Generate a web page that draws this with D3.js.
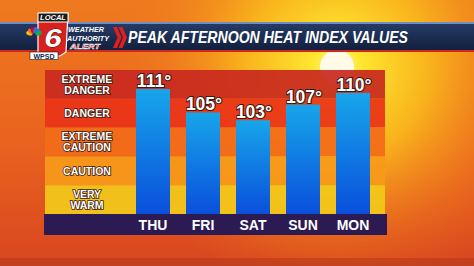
<!DOCTYPE html>
<html>
<head>
<meta charset="utf-8">
<script src="https://cdn.jsdelivr.net/npm/d3@7"></script>
<style>
  body { margin: 0; padding: 0; overflow: hidden; }
  svg { display: block; font-family: "Liberation Sans", Arial, sans-serif; }
</style>
</head>
<body>
<div id="chart"></div>
<script>
// chart data
const days = ["THU", "FRI", "SAT", "SUN", "MON"];
const heatIndex = [111, 105, 103, 107, 110];
const bandNames = ["EXTREME DANGER", "DANGER", "EXTREME CAUTION", "CAUTION", "VERY WARM"];
const bandColors = ["#c92a1f", "#ea3418", "#f26c19", "#f69a19", "#f3c81a"];
const titleText = "PEAK AFTERNOON HEAT INDEX VALUES";

const W = 474, H = 266;

const svg = d3.select("#chart").append("svg")
    .attr("width", W)
    .attr("height", H);

const defs = svg.append("defs");

// background gradients
const bgLin = defs.append("linearGradient").attr("id", "bgLin")
    .attr("x1", 0).attr("y1", 0).attr("x2", 0).attr("y2", 1);
bgLin.append("stop").attr("offset", "0%").attr("stop-color", "#ee7a1e");
bgLin.append("stop").attr("offset", "55%").attr("stop-color", "#e9621f");
bgLin.append("stop").attr("offset", "100%").attr("stop-color", "#d8461f");

const sunGlow = defs.append("radialGradient").attr("id", "sunGlow")
    .attr("cx", 337).attr("cy", 67).attr("r", 230)
    .attr("gradientUnits", "userSpaceOnUse");
sunGlow.append("stop").attr("offset", "0%").attr("stop-color", "#fff8c0").attr("stop-opacity", 1);
sunGlow.append("stop").attr("offset", "10%").attr("stop-color", "#ffe830").attr("stop-opacity", 1);
sunGlow.append("stop").attr("offset", "40%").attr("stop-color", "#fbc01c").attr("stop-opacity", 0.85);
sunGlow.append("stop").attr("offset", "75%").attr("stop-color", "#f48a1c").attr("stop-opacity", 0.35);
sunGlow.append("stop").attr("offset", "100%").attr("stop-color", "#f07020").attr("stop-opacity", 0);

const barGrad = defs.append("linearGradient").attr("id", "barGrad")
    .attr("x1", 0).attr("y1", 0).attr("x2", 0).attr("y2", 1);
barGrad.append("stop").attr("offset", "0%").attr("stop-color", "#17a6ea");
barGrad.append("stop").attr("offset", "100%").attr("stop-color", "#0a4fdc");

const titleGrad = defs.append("linearGradient").attr("id", "titleGrad")
    .attr("x1", 0).attr("y1", 0).attr("x2", 0).attr("y2", 1);
titleGrad.append("stop").attr("offset", "0%").attr("stop-color", "#243a66");
titleGrad.append("stop").attr("offset", "100%").attr("stop-color", "#13203e");

svg.append("rect").attr("width", W).attr("height", H).attr("fill", "url(#bgLin)");
svg.append("rect").attr("width", W).attr("height", H).attr("fill", "url(#sunGlow)");
// sun disc
svg.append("circle").attr("cx", 337).attr("cy", 67).attr("r", 17).attr("fill", "#fffbe8");
// darker strip at the bottom
svg.append("rect").attr("x", 0).attr("y", 258).attr("width", W).attr("height", 8)
    .attr("fill", "#b83a1c").attr("opacity", 0.6);

// scales
const panel = { left: 45, right: 385, top: 70, bottom: 214 };

const bandY = d3.scaleBand()
    .domain(bandNames)
    .range([panel.top, panel.bottom]);

const x = d3.scaleBand()
    .domain(days)
    .range([128, 378])
    .paddingInner(0.32)
    .paddingOuter(0.16);

const y = d3.scaleLinear()
    .domain([79, 111])
    .range([panel.bottom, 89]);

// danger bands
svg.append("g").selectAll("rect")
    .data(bandNames)
    .join("rect")
    .attr("x", panel.left)
    .attr("y", d => bandY(d))
    .attr("width", panel.right - panel.left)
    .attr("height", bandY.bandwidth())
    .attr("fill", (d, i) => bandColors[i])
    .attr("opacity", 0.93);

// band labels
const bandLabels = svg.append("g")
    .attr("font-size", 10.5)
    .attr("font-weight", "bold")
    .attr("fill", "#fff")
    .attr("stroke", "#3a1a10")
    .attr("stroke-width", 1.6)
    .attr("paint-order", "stroke")
    .attr("text-anchor", "middle");

bandNames.forEach(name => {
    const words = name.split(" ");
    const cy = bandY(name) + bandY.bandwidth() / 2;
    const t = bandLabels.append("text")
        .attr("x", 87);
    if (words.length === 1) {
        t.attr("y", cy + 3.8).text(name);
    } else {
        t.append("tspan").attr("x", 87).attr("y", cy - 1.7).text(words[0]);
        t.append("tspan").attr("x", 87).attr("y", cy + 9.3).text(words[1]);
    }
});

// day bar at the bottom
svg.append("rect")
    .attr("x", 44).attr("y", panel.bottom)
    .attr("width", 343).attr("height", 21)
    .attr("fill", "#2c1a52");

svg.append("g").selectAll("text")
    .data(days)
    .join("text")
    .attr("x", d => x(d) + x.bandwidth() / 2)
    .attr("y", 230)
    .attr("text-anchor", "middle")
    .attr("font-size", 14)
    .attr("font-weight", "bold")
    .attr("fill", "#fff")
    .text(d => d);

// bars
svg.append("g").selectAll("rect")
    .data(heatIndex)
    .join("rect")
    .attr("x", (d, i) => x(days[i]))
    .attr("y", d => y(d))
    .attr("width", x.bandwidth())
    .attr("height", d => y.range()[0] - y(d))
    .attr("fill", "url(#barGrad)");

// value labels
svg.append("g").selectAll("text")
    .data(heatIndex)
    .join("text")
    .attr("x", (d, i) => x(days[i]) + x.bandwidth() / 2 + 1)
    .attr("y", d => y(d) - 2)
    .attr("text-anchor", "middle")
    .attr("font-size", 17.5)
    .attr("font-weight", "bold")
    .attr("fill", "#fff")
    .attr("stroke", "#3a1a14")
    .attr("stroke-width", 2)
    .attr("paint-order", "stroke")
    .text(d => d + "°");

// title bar
svg.append("rect").attr("x", 0).attr("y", 22).attr("width", W).attr("height", 2).attr("fill", "#6f8fc0");
svg.append("rect").attr("x", 0).attr("y", 24).attr("width", W).attr("height", 26).attr("fill", "url(#titleGrad)");
svg.append("rect").attr("x", 0).attr("y", 50).attr("width", W).attr("height", 2).attr("fill", "#d0281c");

svg.append("text")
    .attr("x", 128).attr("y", 43)
    .attr("font-size", 17)
    .attr("font-weight", "bold")
    .attr("font-style", "italic")
    .attr("fill", "#fff")
    .attr("textLength", 280)
    .attr("lengthAdjust", "spacingAndGlyphs")
    .text(titleText);

// red chevrons
const chev = svg.append("g").attr("fill", "#e0201c");
[113, 118.5].forEach(cx => {
    chev.append("path")
        .attr("d", `M${cx},27 L${cx + 4},27 L${cx + 8.5},37.5 L${cx + 4},48 L${cx},48 L${cx + 4.5},37.5 Z`);
});

// weather authority alert text
const wa = svg.append("g")
    .attr("font-size", 8)
    .attr("font-weight", "bold")
    .attr("font-style", "italic");
wa.append("text").attr("x", 68).attr("y", 32).attr("fill", "#fff")
    .attr("textLength", 36).attr("lengthAdjust", "spacingAndGlyphs").text("WEATHER");
wa.append("text").attr("x", 67).attr("y", 40.5).attr("fill", "#fff")
    .attr("textLength", 42).attr("lengthAdjust", "spacingAndGlyphs").text("AUTHORITY");
wa.append("text").attr("x", 70).attr("y", 49).attr("fill", "#e0201c")
    .attr("stroke", "#fff").attr("stroke-width", 0.5)
    .attr("textLength", 30).attr("lengthAdjust", "spacingAndGlyphs").text("ALERT");

// station logo
const logo = svg.append("g");
logo.append("path")
    .attr("d", "M41,13 L68,13 L66,52 L60,56 L38,56 L38,22 Z")
    .attr("fill", "#d8201c").attr("stroke", "#fff").attr("stroke-width", 1.2);
logo.append("rect").attr("x", 38).attr("y", 13).attr("width", 30).attr("height", 9)
    .attr("fill", "#1a1a1a").attr("stroke", "#fff").attr("stroke-width", 1);
logo.append("text").attr("x", 53).attr("y", 20).attr("text-anchor", "middle")
    .attr("font-size", 7.5).attr("font-weight", "bold").attr("font-style", "italic")
    .attr("fill", "#fff").text("LOCAL");
logo.append("text").attr("x", 53).attr("y", 46.8).attr("text-anchor", "middle")
    .attr("font-size", 25).attr("font-weight", "bold").attr("font-style", "italic")
    .attr("fill", "#fff").attr("stroke", "#5a0a0a").attr("stroke-width", 0.8)
    .attr("paint-order", "stroke")
    .attr("transform", "translate(53,46.8) scale(1.25,1) translate(-53,-46.8)")
    .text("6");
// peacock
const feathers = ["#f5c400", "#f37021", "#cc004c", "#6460aa", "#0089d0", "#0db14b"];
feathers.forEach((c, i) => {
    const a = (-160 + i * 28) * Math.PI / 180;
    logo.append("ellipse")
        .attr("cx", 34 + Math.cos(a) * 5).attr("cy", 35 + Math.sin(a) * 5)
        .attr("rx", 3.2).attr("ry", 2)
        .attr("transform", `rotate(${(a * 180 / Math.PI)},${34 + Math.cos(a) * 5},${35 + Math.sin(a) * 5})`)
        .attr("fill", c);
});
logo.append("rect").attr("x", 30).attr("y", 52).attr("width", 28).attr("height", 7.5)
    .attr("fill", "#fff").attr("stroke", "#1a1a1a").attr("stroke-width", 0.6);
logo.append("text").attr("x", 44).attr("y", 58.6).attr("text-anchor", "middle")
    .attr("font-size", 7).attr("font-weight", "bold")
    .attr("fill", "#1a2a50").text("WPSD");
</script>
</body>
</html>
